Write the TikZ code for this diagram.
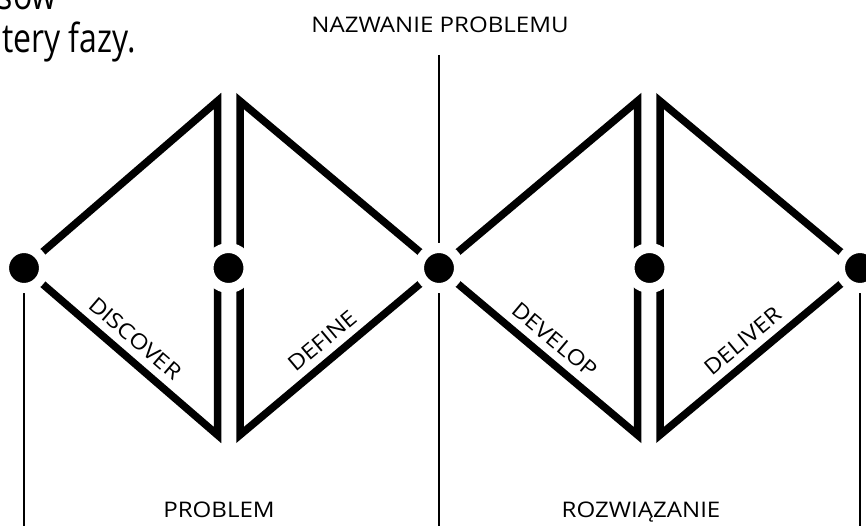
\documentclass[tikz,border=0pt]{standalone}
\usepackage{fontspec}
\setmainfont{Open Sans}
\newfontfamily\labelfont[FakeStretch=1.12]{Open Sans}
\newfontfamily\introfont[FakeStretch=0.8]{Open Sans}
\begin{document}
\begin{tikzpicture}[x=1pt,y=-1pt,
    edge/.style={line width=7.5pt,line join=miter},
    rule/.style={line width=2.6pt},
    dot/.style={circle,fill=black,draw=white,line width=10pt,minimum size=40pt,inner sep=0pt},
    phase/.style={font=\labelfont\fontsize{21.5}{24}\selectfont,inner sep=0pt,sloped,above=11.5pt},
    caption/.style={font=\labelfont\fontsize{21.5}{24}\selectfont,inner sep=0pt,anchor=base},
    intro/.style={font=\introfont\fontsize{40}{43}\selectfont,inner sep=0pt,anchor=base east}]
  \useasboundingbox (0,0) rectangle (866,526);
  \foreach \n/\x in {1/24,2/228.5,3/439,4/649.5,5/860}{\coordinate (c\n) at (\x,268);}
  \foreach \n/\x in {1/217.5,2/240,3/637.5,4/660}{\coordinate (t\n) at (\x,101); \coordinate (b\n) at (\x,435);}
  \coordinate (top) at (439,55);
  \coordinate (bottom) at (0,530);
  \draw[edge] (c1) -- (t1) -- (b1) -- cycle;
  \draw[edge] (c3) -- (t2) -- (b2) -- cycle;
  \draw[edge] (c3) -- (t3) -- (b3) -- cycle;
  \draw[edge] (c5) -- (t4) -- (b4) -- cycle;
  \draw[rule] (c1) -- (c1 |- bottom);
  \draw[rule] (top) -- (c3 |- bottom);
  \draw[rule] (c5) -- (c5 |- bottom);
  \foreach \n in {1,...,5}{\node[dot] (d\n) at (c\n) {};}
  \path (c1) -- (b1) node[phase,pos=0.51] (discover) {DISCOVER};
  \path (b2) -- (c3) node[phase,pos=0.475] (define) {DEFINE};
  \path (c3) -- (b3) node[phase,pos=0.52] (develop) {DEVELOP};
  \path (b4) -- (c5) node[phase,pos=0.475] (deliver) {DELIVER};
  \node[caption] (head) at (440,33) {NAZWANIE PROBLEMU};
  \node[caption] (problem) at (219,517) {PROBLEM};
  \node[caption] (solution) at (641,517) {ROZWIĄZANIE};
  \node[intro] (intro1) at (57,10) {sów};
  \node[intro] (intro2) at (136,53) {tery fazy.};
\end{tikzpicture}
\end{document}
